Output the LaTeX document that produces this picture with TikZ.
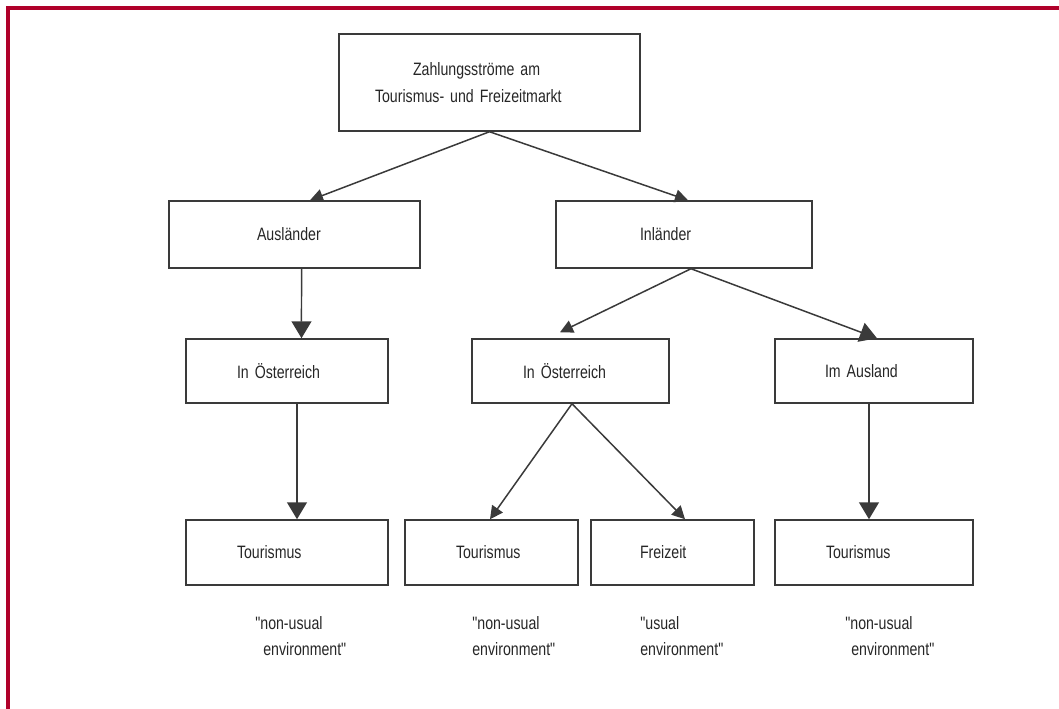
\documentclass[tikz,border=0pt]{standalone}
\usepackage{fontspec}
\setmainfont[FakeStretch=0.79, Ligatures=TeXOff]{Liberation Sans}
\usetikzlibrary{arrows.meta}
\definecolor{rahmen}{RGB}{176,0,42}
\definecolor{strich}{RGB}{58,58,58}
\tikzset{
  box/.style={draw=strich, line width=0.03cm, align=left, text=black!85,
    font=\fontsize{10.2}{15}\selectfont},
  pfeil/.style={draw=strich, line width=0.03cm, -{Triangle[length=0.34cm,width=0.4cm]}},
  spitz/.style={draw=strich, line width=0.03cm, -{Triangle[length=0.26cm,width=0.26cm]}},
  notiz/.style={anchor=north west, align=left, inner sep=0pt, text=black!85,
    font=\fontsize{10.2}{14.8}\selectfont}
}
\begin{document}
\begin{tikzpicture}[x=0.02cm, y=-0.02cm]
\useasboundingbox (0,0) rectangle (1059,709);
\draw[rahmen, line width=0.08cm] (8,709) -- (8,8) -- (1059,8);

\node[box, minimum height=1.94cm, inner xsep=0.72cm, text width=4.58cm] (zsm) at (489.5,82.5){\hspace*{0.76cm}Zahlungsströme am\\Tourismus- und Freizeitmarkt};

\node[box, minimum height=1.34cm, inner xsep=1.76cm, text width=1.50cm] (aus) at (294.5,234.5){Ausländer};
\node[box, minimum height=1.34cm, inner xsep=1.68cm, text width=1.76cm] (inl) at (684,234.5){Inländer};

\draw[spitz](zsm.south) -- ([xshift=0.31cm]aus.north);
\draw[spitz](zsm.south) -- ([xshift=0.08cm]inl.north);

\node[box, minimum height=1.28cm, inner xsep=1.02cm, text width=2.00cm] (oe1) at (287,371){In Österreich};
\node[box, minimum height=1.28cm, inner xsep=1.02cm, text width=1.90cm] (oe2) at (570.5,371){In Österreich};
\node[box, minimum height=1.28cm, inner xsep=1.00cm, text width=1.96cm] (ausl) at (874,371){Im Ausland};

\draw[pfeil]([xshift=0.14cm]aus.south) -- ([xshift=0.29cm]oe1.north);
\draw[spitz]([xshift=0.14cm]inl.south) -- ([xshift=-0.21cm,yshift=0.12cm]oe2.north);
\draw[pfeil]([xshift=0.14cm]inl.south) -- ([xshift=0.06cm]ausl.north);

\node[box, minimum height=1.30cm, inner xsep=1.02cm, text width=2.00cm] (tou1) at (287,552.5){Tourismus};
\node[box, minimum height=1.30cm, inner xsep=1.02cm, text width=1.42cm] (tou2) at (491.5,552.5){Tourismus};
\node[box, minimum height=1.30cm, inner xsep=0.98cm, text width=1.30cm] (frz) at (672.5,552.5){Freizeit};
\node[box, minimum height=1.30cm, inner xsep=1.02cm, text width=1.92cm] (tou3) at (874,552.5){Tourismus};

\draw[pfeil]([xshift=0.2cm]oe1.south) -- ([xshift=0.2cm]tou1.north);
\draw[spitz]([xshift=0.03cm]oe2.south) -- ([xshift=-0.03cm]tou2.north);
\draw[spitz]([xshift=0.03cm]oe2.south) -- ([xshift=0.25cm]frz.north);
\draw[pfeil]([xshift=-0.1cm]ausl.south) -- ([xshift=-0.1cm]tou3.north);

\node[notiz] (lab1) at (255,616){"non-usual\\\hspace*{0.16cm}environment"};
\node[notiz] (lab2) at (472,616){"non-usual\\environment"};
\node[notiz] (lab3) at (640,616){"usual\\environment"};
\node[notiz] (lab4) at (845,616){"non-usual\\\hspace*{0.12cm}environment"};

\end{tikzpicture}
\end{document}
